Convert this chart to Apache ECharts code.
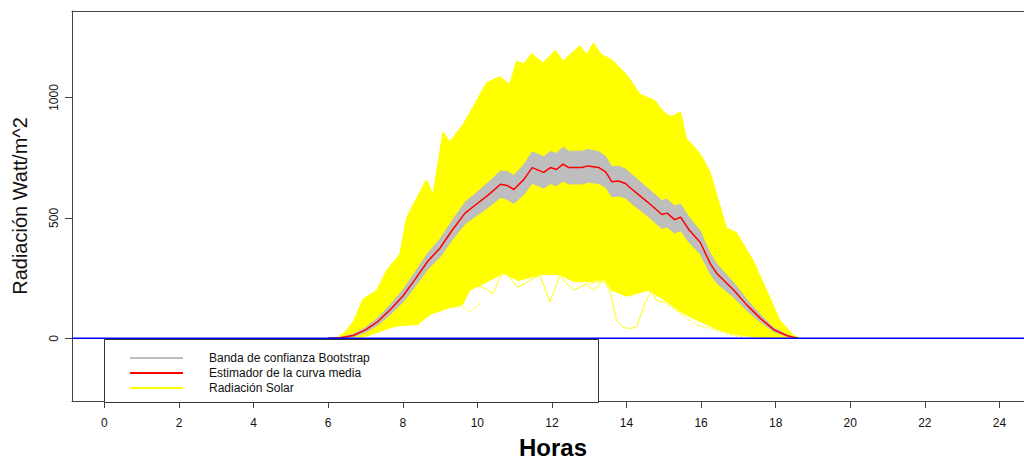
<!DOCTYPE html>
<html>
<head>
<meta charset="utf-8">
<script src="https://cdn.jsdelivr.net/npm/echarts@6/dist/echarts.min.js"></script>
<style>
  html, body { margin: 0; padding: 0; background: #fff; }
  #chart { width: 1024px; height: 464px; }
</style>
</head>
<body>
<div id="chart"></div>
<script>
// Estimador de la curva media (hora, W/m^2)
const meanHours = [6.0, 6.33, 6.67, 7.0, 7.33, 7.67, 8.0, 8.33, 8.67, 9.0, 9.33, 9.67, 10.0, 10.33, 10.62, 10.8, 10.98, 11.25, 11.47, 11.78, 11.96, 12.12, 12.3, 12.45, 12.81, 12.96, 13.26, 13.44, 13.61, 13.79, 13.97, 14.2, 14.55, 14.95, 15.09, 15.29, 15.45, 15.67, 15.98, 16.25, 16.43, 16.88, 17.23, 17.59, 17.95, 18.31, 18.6];
const meanValues = [0, 3, 12, 35, 70, 120, 175, 245, 320, 375, 450, 520, 560, 600, 640, 635, 618, 660, 709, 689, 709, 701, 723, 709, 709, 716, 709, 691, 650, 653, 643, 612, 568, 514, 520, 493, 503, 452, 398, 309, 268, 200, 138, 83, 36, 11, 0];

// Banda de confianza Bootstrap (mismas horas)
const bandLower = [0, 1, 7, 25, 55, 100, 150, 215, 287, 338, 410, 475, 512, 548, 585, 577, 560, 598, 644, 624, 642, 634, 653, 641, 641, 648, 643, 627, 588, 591, 583, 552, 510, 456, 462, 437, 448, 400, 350, 267, 228, 170, 116, 68, 28, 8, 0];
const bandUpper = [0, 5, 17, 45, 85, 140, 200, 275, 353, 412, 490, 565, 608, 652, 695, 693, 676, 722, 774, 754, 776, 768, 793, 777, 777, 784, 775, 755, 712, 715, 703, 672, 626, 572, 578, 549, 558, 504, 446, 351, 308, 230, 160, 98, 44, 14, 0];

// Radiación Solar: borde superior de las curvas diarias
const solarUpperHours = [6.2, 6.45, 6.67, 6.94, 7.3, 7.56, 7.92, 8.1, 8.37, 8.64, 8.81, 9.08, 9.26, 9.62, 9.93, 10.25, 10.6, 10.87, 11.05, 11.25, 11.45, 11.59, 11.77, 12.09, 12.3, 12.5, 12.75, 12.93, 13.11, 13.33, 13.6, 13.91, 14.09, 14.36, 14.77, 15.0, 15.2, 15.45, 15.61, 15.79, 16.0, 16.24, 16.42, 16.68, 16.95, 17.4, 17.76, 18.11, 18.47, 18.65];
const solarUpper = [0, 25, 69, 164, 199, 281, 349, 500, 582, 658, 596, 857, 815, 889, 973, 1062, 1086, 1055, 1150, 1140, 1182, 1165, 1144, 1196, 1151, 1180, 1215, 1178, 1226, 1178, 1158, 1110, 1076, 1014, 986, 939, 920, 940, 829, 800, 760, 692, 596, 459, 439, 322, 199, 76, 14, 0];
// borde inferior de la masa densa
const solarLowerHours = [6.2, 7.0, 7.4, 7.8, 8.4, 8.75, 9.2, 9.6, 9.8, 10.2, 10.7, 11.1, 11.7, 12.2, 12.6, 13.0, 13.4, 13.6, 14.0, 14.6, 15.0, 15.45, 15.9, 16.4, 16.8, 17.4, 18.0, 18.65];
const solarLower = [0, 8, 30, 50, 60, 100, 125, 140, 200, 230, 270, 240, 265, 265, 235, 235, 245, 200, 175, 200, 160, 110, 75, 40, 20, 6, 2, 0];

// Curvas diarias bajas visibles fuera de la masa amarilla
const lowDay1Hours = [13.0, 13.37, 13.55, 13.73, 13.92, 14.09, 14.27, 14.49, 14.67, 14.8, 15.0];
const lowDay1Values = [226, 240, 200, 76, 45, 41, 48, 144, 199, 158, 150];
const lowDay2Hours = [9.8, 10.16, 10.42, 10.69, 11.09, 11.4, 11.68, 11.95, 12.21, 12.57, 12.93, 13.11, 13.37];
const lowDay2Values = [226, 212, 185, 281, 212, 240, 261, 151, 261, 199, 226, 199, 240];
const lowDay3Hours = [8.4, 8.73, 9.17, 9.62, 9.8, 10.1];
const lowDay3Values = [55, 103, 130, 130, 110, 150];
const lowDay4Hours = [15.0, 15.45, 15.88, 16.3, 16.77, 17.2];
const lowDay4Values = [150, 103, 55, 40, 14, 5];
const lowDay5Hours = [6.9, 7.38, 7.83, 8.37, 8.73];
const lowDay5Values = [14, 41, 55, 55, 103];

const xTicks = [0, 2, 4, 6, 8, 10, 12, 14, 16, 18, 20, 22, 24];
const yTicks = [0, 500, 1000];

const FONT = "Liberation Sans, Arial, sans-serif";
const YELLOW = "#FFFF00";
const GREY = "#BEBEBE";

const pairs = (xs, ys) => xs.map((x, i) => [x, ys[i]]);

// relleno entre un borde superior y uno inferior, con la escala de la gráfica
function bandSeries(name, upHours, upper, lowHours, lower, color, z) {
  return {
    type: "custom",
    name: name,
    silent: true,
    z: z,
    itemStyle: { color: color },
    data: upHours.map((h, i) => [h, upper[i]]),
    renderItem: function (params, api) {
      if (params.dataIndex !== 0) return null;
      const top = upHours.map((h, i) => api.coord([h, upper[i]]));
      const bottom = lowHours.map((h, i) => api.coord([h, lower[i]])).reverse();
      return {
        type: "polygon",
        shape: { points: top.concat(bottom) },
        style: { fill: color, stroke: color, lineWidth: 1 }
      };
    }
  };
}

const chart = echarts.init(document.getElementById("chart"), null, { renderer: "svg" });

const lowDaySeries = [
  [lowDay1Hours, lowDay1Values, "solid"],
  [lowDay2Hours, lowDay2Values, "solid"],
  [lowDay3Hours, lowDay3Values, [3, 2]],
  [lowDay4Hours, lowDay4Values, [3, 2]],
  [lowDay5Hours, lowDay5Values, [3, 2]]
].map(([hs, vs, type]) => ({
  type: "line",
  data: pairs(hs, vs),
  symbol: "none",
  silent: true,
  z: 2,
  lineStyle: { color: YELLOW, width: 1, type: type }
}));

chart.setOption({
  animation: false,
  backgroundColor: "#fff",
  grid: { left: 72, right: 0, top: 11, bottom: 59 },
  legend: {
    data: ["Banda de confianza Bootstrap", "Estimador de la curva media", "Radiación Solar"],
    orient: "vertical",
    left: 130,
    top: 352,
    padding: 0,
    itemGap: 3,
    itemWidth: 53,
    itemHeight: 2,
    icon: "rect",
    selectedMode: false,
    z: 6,
    textStyle: { fontFamily: FONT, fontSize: 12, color: "#111", padding: [0, 0, 0, 21] }
  },
  xAxis: [
    {
      type: "value",
      min: -0.87,
      max: 24.66,
      position: "bottom",
      name: "Horas",
      nameLocation: "middle",
      nameGap: 34,
      nameTextStyle: { fontFamily: FONT, fontSize: 24, fontWeight: "bold", color: "#000", padding: [0, 0, 0, 10] },
      axisLine: { show: true, onZero: false, lineStyle: { color: "#444", width: 1 } },
      axisTick: { show: true, length: 7, inside: false, customValues: xTicks, lineStyle: { color: "#444" } },
      axisLabel: { customValues: xTicks, margin: 16, fontFamily: FONT, fontSize: 12, color: "#111" },
      splitLine: { show: false }
    },
    {
      type: "value",
      min: -0.87,
      max: 24.66,
      position: "top",
      axisLine: { show: true, onZero: false, lineStyle: { color: "#444", width: 1 } },
      axisTick: { show: false },
      axisLabel: { show: false },
      splitLine: { show: false }
    }
  ],
  yAxis: {
    type: "value",
    min: -260,
    max: 1359,
    name: "Radiación Watt/m^2",
    nameLocation: "middle",
    nameGap: 42,
    nameTextStyle: { fontFamily: FONT, fontSize: 20, color: "#111" },
    axisLine: { show: true, onZero: false, lineStyle: { color: "#444", width: 1 } },
    axisTick: { show: true, length: 7, customValues: yTicks, lineStyle: { color: "#444" } },
    axisLabel: {
      customValues: yTicks, rotate: 90, margin: 12,
      fontFamily: FONT, fontSize: 12, color: "#111",
      formatter: v => String(v)
    },
    splitLine: { show: false }
  },
  graphic: [
    {
      type: "rect",
      z: 3,
      shape: { x: 104.5, y: 339.5, width: 494, height: 63 },
      style: { fill: "#fff", stroke: "#333", lineWidth: 1 }
    }
  ],
  series: [
    bandSeries("Radiación Solar", solarUpperHours, solarUpper, solarLowerHours, solarLower, YELLOW, 1),
    ...lowDaySeries,
    bandSeries("Banda de confianza Bootstrap", meanHours, bandUpper, meanHours, bandLower, GREY, 2),
    {
      type: "line",
      name: "Estimador de la curva media",
      data: pairs(meanHours, meanValues),
      symbol: "none",
      silent: true,
      z: 2,
      itemStyle: { color: "#FF0000" },
      lineStyle: { color: "#FF0000", width: 1.5 }
    },
    {
      type: "line",
      name: "cero",
      data: [[-0.87, 0], [24.66, 0]],
      symbol: "none",
      silent: true,
      z: 5,
      lineStyle: { color: "#0000FF", width: 1.5 }
    }
  ]
});
</script>
</body>
</html>
